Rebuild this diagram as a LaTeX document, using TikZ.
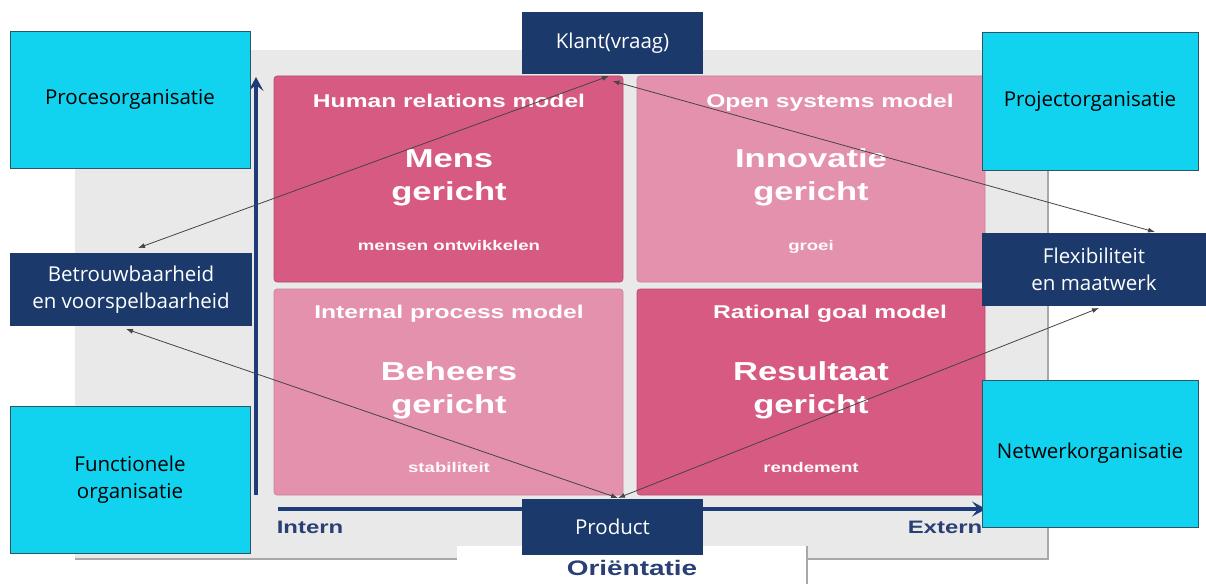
\documentclass[tikz,border=0pt]{standalone}
\usepackage{fontspec}
\setmainfont{Open Sans}
\newfontfamily\arialfont{Liberation Sans}
\usetikzlibrary{arrows.meta,calc}

\definecolor{navybox}{HTML}{1B3A6B}
\definecolor{cyanfill}{HTML}{12D3EF}
\definecolor{cyanedge}{HTML}{2C5666}
\definecolor{pinkdark}{HTML}{D65A82}
\definecolor{pinklight}{HTML}{E491AD}
\definecolor{panelgray}{HTML}{E9E9E9}
\definecolor{paneledge}{HTML}{A8A8A8}
\definecolor{axisnavy}{HTML}{1E3C78}
\definecolor{labelnavy}{HTML}{2A3F74}
\definecolor{linkgray}{HTML}{454545}

\newcommand{\wide}[1]{\scalebox{1.33}[1]{#1}}

\tikzset{
  orgbox/.style={rectangle, anchor=north west, inner sep=0pt, outer sep=0pt,
    align=center, font=\fontsize{20.5}{26.5}\selectfont},
  cyanbox/.style={orgbox, fill=cyanfill, draw=cyanedge, line width=0.9pt, text=black},
  navybox/.style={orgbox, fill=navybox, text=white},
  quad/.style={rectangle, anchor=north west, inner sep=0pt, outer sep=0pt,
    rounded corners=3pt},
  qdark/.style={quad, fill=pinkdark, draw=pinkdark!85!black, line width=0.6pt},
  qlight/.style={quad, fill=pinklight, draw=pinklight!88!black, line width=0.6pt},
  qtitle/.style={anchor=base, inner sep=0pt, text=white,
    font=\arialfont\bfseries\fontsize{18.5}{20}\selectfont},
  qbig/.style={anchor=base, inner sep=0pt, text=white,
    font=\arialfont\bfseries\fontsize{26}{28}\selectfont},
  qsmall/.style={anchor=base, inner sep=0pt, text=white!92!pink,
    font=\arialfont\bfseries\fontsize{14}{15}\selectfont},
  axislabel/.style={anchor=base, inner sep=0pt, text=labelnavy,
    font=\arialfont\bfseries\fontsize{18}{20}\selectfont},
  axisline/.style={draw=axisnavy, line width=3.5pt,
    -{Stealth[length=14pt,width=15pt,inset=6pt]}},
  link/.style={draw=linkgray, line width=0.8pt,
    arrows={Latex[length=7pt,width=5pt]-Latex[length=7pt,width=5pt]}}
}

\begin{document}
\begin{tikzpicture}[x=1pt,y=-1pt]
  \useasboundingbox (0,0) rectangle (1206,583);
  \fill[white] (0,0) rectangle (1206,583);

  % grey backdrop with its shadow edges
  \fill[panelgray] (75,50) rectangle (1048,559);
  \draw[paneledge, line width=1.6pt] (1048,50) -- (1048,559) -- (75,559);

  % four quadrants
  \node[qdark]  (hr) at (274,76)  [minimum width=349pt, minimum height=206pt] {};
  \node[qlight] (os) at (637,76)  [minimum width=348pt, minimum height=206pt] {};
  \node[qlight] (ip) at (274,289) [minimum width=349pt, minimum height=206pt] {};
  \node[qdark]  (rg) at (637,289) [minimum width=348pt, minimum height=206pt] {};

  % quadrant texts
  \node[qtitle] (hrT) at (449,108) {\wide{Human relations model}};
  \node[qbig]   (hrA) at (449,167) {\wide{Mens}};
  \node[qbig]   (hrB) at (449,200) {\wide{gericht}};
  \node[qsmall] (hrC) at (449,250) {\wide{mensen ontwikkelen}};

  \node[qtitle] (osT) at (830,108) {\wide{Open systems model}};
  \node[qbig]   (osA) at (811,167) {\wide{Innovatie}};
  \node[qbig]   (osB) at (811,200) {\wide{gericht}};
  \node[qsmall] (osC) at (811,250) {\wide{groei}};

  \node[qtitle] (ipT) at (449,318) {\wide{Internal process model}};
  \node[qbig]   (ipA) at (449,380) {\wide{Beheers}};
  \node[qbig]   (ipB) at (449,413) {\wide{gericht}};
  \node[qsmall] (ipC) at (449,472) {\wide{stabiliteit}};

  \node[qtitle] (rgT) at (830,318) {\wide{Rational goal model}};
  \node[qbig]   (rgA) at (811,380) {\wide{Resultaat}};
  \node[qbig]   (rgB) at (811,413) {\wide{gericht}};
  \node[qsmall] (rgC) at (811,472) {\wide{rendement}};

  % axes
  \coordinate (vfoot) at (256,495);
  \coordinate (vtip)  at (256,77);
  \coordinate (hfoot) at (278,509);
  \coordinate (htip)  at (986,509);
  \draw[axisline] (vfoot) -- (vtip);
  \draw[axisline] (hfoot) -- (htip);
  \node[axislabel] (intern) at (310,533) {\wide{Intern}};
  \node[axislabel] (extern) at (945,533) {\wide{Extern}};

  % caption strip
  \fill[white] (457,546) rectangle (807,584);
  \draw[paneledge, line width=1.6pt] (807,546) -- (807,584);
  \node[axislabel, font=\arialfont\bfseries\fontsize{21}{23}\selectfont]
    (orient) at (632,575) {\wide{Oriëntatie}};

  % organisation boxes
  \node[cyanbox] (proc) at (10,31)  [minimum width=240pt, minimum height=137pt] {Procesorganisatie};
  \node[cyanbox] (proj) at (982,32) [minimum width=216pt, minimum height=138pt] {Projectorganisatie};
  \node[cyanbox] (func) at (10,406) [minimum width=240pt, minimum height=147pt] {Functionele\\organisatie};
  \node[cyanbox] (netw) at (982,380)[minimum width=216pt, minimum height=147pt] {Netwerkorganisatie};

  \node[navybox] (klant)   at (522,12)  [minimum width=181pt, minimum height=62pt] {Klant(vraag)};
  \node[navybox] (product) at (522,499) [minimum width=181pt, minimum height=56pt] {Product};
  \node[navybox] (betr)    at (10,253)  [minimum width=242pt, minimum height=73pt] {Betrouwbaarheid\\en voorspelbaarheid};
  \node[navybox] (flex)    at (982,233) [minimum width=224pt, minimum height=73pt] {Flexibiliteit\\en maatwerk};

  % connector ends
  \coordinate (kA) at ($(klant.south)+(-3.5,2)$);
  \coordinate (kB) at ($(klant.south)+(0,7)$);
  \coordinate (bA) at ($(betr.north)+(7,-5)$);
  \coordinate (bC) at ($(betr.south)+(-5,3)$);
  \coordinate (fB) at ($(flex.north)+(61,-1)$);
  \coordinate (fD) at ($(flex.south)+(5,2)$);
  \coordinate (pC) at ($(product.north)+(5.5,-1)$);

  \draw[link] (kA) -- (bA);
  \draw[link] (kB) -- (fB);
  \draw[link] (pC) -- (bC);
  \draw[link] (pC) -- (fD);
\end{tikzpicture}
\end{document}
